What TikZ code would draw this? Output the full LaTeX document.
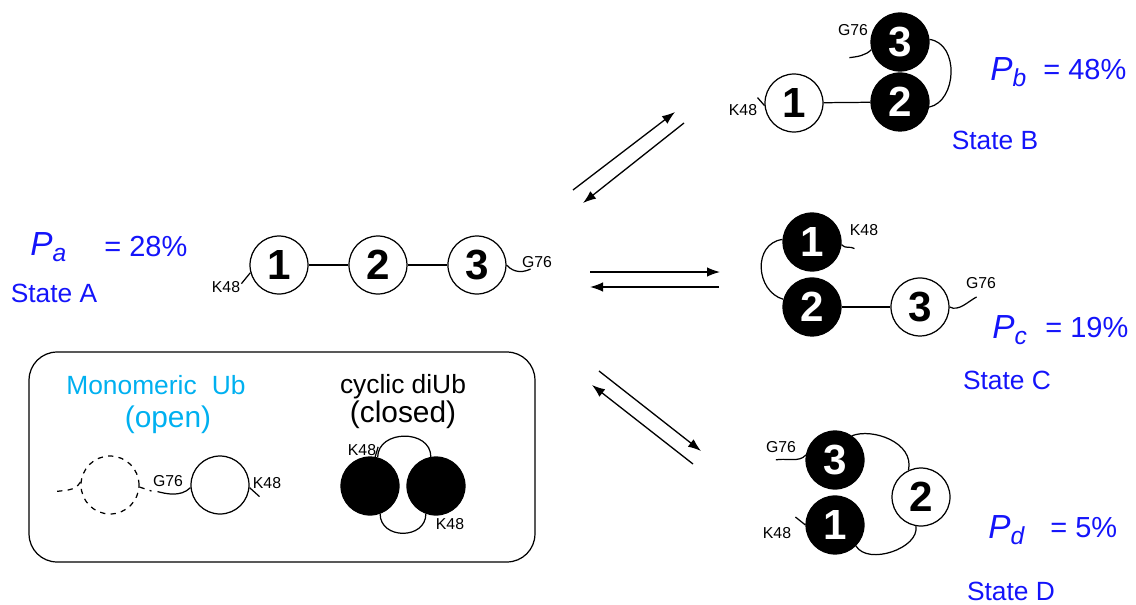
\documentclass[tikz,border=0pt]{standalone}
\usepackage{fontspec}
\setmainfont{Liberation Sans}
\usepackage{xcolor}
\usetikzlibrary{arrows.meta,calc,positioning}
\definecolor{stateblue}{RGB}{20,20,250}
\definecolor{monocyan}{RGB}{0,176,240}
\newcommand{\fsz}[1]{\fontsize{#1}{#1}\selectfont}
\newcommand{\pstate}[1]{{\fsz{19}\itshape P}\raisebox{-3.5pt}{\fsz{14}\itshape #1}}
\tikzset{%
	ub/.style       = {draw, circle, line width=0.7pt, fill=white, minimum size=1.16cm, inner sep=0pt, font=\fsz{24}\bfseries},
	ubdark/.style   = {ub, fill=black, text=white}, % closed domain
	site/.style     = {inner sep=0pt, font=\fsz{9}}, % K48, G76
	pfrac/.style    = {text=stateblue, inner sep=0pt, anchor=west, font=\fsz{16.5}},
	statelab/.style = {text=stateblue, inner sep=0pt, font=\fsz{15}},
	link/.style     = {line width=0.7pt},
	arrow/.style    = {line width=0.75pt, ->},
	legendbox/.style= {draw, line width=0.7pt, rounded corners=0.56cm, minimum width=10.12cm, minimum height=4.2cm},
}

\begin{document}
\begin{tikzpicture}[x=0.02cm,y=-0.02cm,node distance=1.98cm,>={Latex[length=2.6mm,width=1.9mm]}]
	\useasboundingbox (0,0) rectangle (1136,605);

	% State A
	\node [ub] (a1) at (279,265) {1};
	\node [ub] (a2) [right of=a1] {2};
	\node [ub] (a3) [right of=a2] {3};
	\draw [link] (a1) -- (a2);
	\draw [link] (a2) -- (a3);
	\draw [link] (a1.195) -- ++(-9,11);
	\node [site] (ak) at (226,287) {K48};
	\draw [link] (a3.east) .. controls +(8,9) and +(-6,3) .. ++(24,4);
	\node [site] (ag) at (537,262) {G76};
	\node [pfrac] (pa) at (30,247) {\pstate{a}};
	\node [pfrac] (eqa) at (104,247) {= 28\%};
	\node [statelab] (sa) at (54,293) {State A};

	% State B
	\node [ubdark] (b3) at (900,42) {3};
	\node [ubdark] (b2) [below of=b3,node distance=1.2cm] {2};
	\node [ub] (b1) at (794,103) {1};
	\draw [link] (b1) -- (b2);
	\draw [link] (b3.5) .. controls +(30,4) and +(28,-6) .. (b2.-10);
	\draw [link] (b3.195) .. controls +(-6,6) and +(8,-1) .. ++(-22,8);
	\node [site] (bg) at (853,30) {G76};
	\draw [link] (b1.185) -- ++(-7,-8);
	\node [site] (bk) at (743,110) {K48};
	\node [pfrac] (pb) at (990,72) {\pstate{b}};
	\node [pfrac] (eqb) at (1043,70) {= 48\%};
	\node [statelab] (sb) at (995,140) {State B};

	% State C
	\node [ubdark] (c1) at (812,242) {1};
	\node [ubdark] (c2) [below of=c1,node distance=1.3cm] {2};
	\node [ub] (c3) [right of=c2,node distance=2.16cm] {3};
	\draw [link] (c2) -- (c3);
	\draw [link] (c1.175) .. controls +(-30,4) and +(-28,-8) .. (c2.165);
	\draw [link] (c1.-5) .. controls +(5,5) and +(-5,-3) .. ++(13,4);
	\node [site] (ck) at (864,230) {K48};
	\draw [link] (c3.east) .. controls +(9,5) and +(-8,4) .. ++(27,-10);
	\node [site] (cg) at (981,283) {G76};
	\node [pfrac] (pc) at (992,330) {\pstate{c}};
	\node [pfrac] (eqc) at (1045,328) {= 19\%};
	\node [statelab] (sc) at (1007,380) {State C};

	% State D
	\node [ubdark] (d3) at (835,460) {3};
	\node [ubdark] (d1) [below of=d3,node distance=1.3cm] {1};
	\node [ub] (d2) at (921,497) {2};
	\draw [link] (d3.55) .. controls +(20,-8) and +(6,-28) .. (d2.115);
	\draw [link] (d1.-45) .. controls +(12,20) and +(4,22) .. (d2.-100);
	\draw [link] (d3.170) .. controls +(-6,8) and +(10,-2) .. ++(-30,5);
	\node [site] (dg) at (781,447) {G76};
	\draw [link] (d1.180) -- ++(-10,-8);
	\node [site] (dk) at (777,533) {K48};
	\node [pfrac] (pd) at (988,530) {\pstate{d}};
	\node [pfrac] (eqd) at (1050,528) {= 5\%};
	\node [statelab] (sd) at (1011,591) {State D};

	% equilibrium arrows
	\coordinate (ab1) at (573,190); \coordinate (ab2) at (675,112);
	\coordinate (ba1) at (684,123); \coordinate (ba2) at (583,203);
	\coordinate (ac1) at (590,272); \coordinate (ac2) at (720,272);
	\coordinate (ca1) at (719,287); \coordinate (ca2) at (590,287);
	\coordinate (ad1) at (599,371); \coordinate (ad2) at (701,451);
	\coordinate (da1) at (693,464); \coordinate (da2) at (592,385);
	\draw [arrow] (ab1) -- (ab2);
	\draw [arrow] (ba1) -- (ba2);
	\draw [arrow] (ac1) -- (ac2);
	\draw [arrow] (ca1) -- (ca2);
	\draw [arrow] (ad1) -- (ad2);
	\draw [arrow] (da1) -- (da2);

	% legend
	\node [legendbox] (legend) at (282,457) {};
	\node [inner sep=0pt, text=monocyan, font=\fsz{15}] (mono1) at (156,385) {Monomeric\hspace{0.3em} Ub};
	\node [inner sep=0pt, text=monocyan, font=\fsz{17}] (mono2) at (168,420) {(open)};
	\node [inner sep=0pt, font=\fsz{15}] (cyc1) at (403,387) {cyclic diUb};
	\node [inner sep=0pt, font=\fsz{17}] (cyc2) at (403,415) {(closed)};

	\node [ub, dashed] (m0) at (110,485) {};
	\node [ub] (m1) at (220,485) {};
	\draw [link, dashed] (m0.174) .. controls +(-6,10) and +(10,-2) .. ++(-27,10);
	\draw [link, dashed] (m0.-4) -- ++(12,4);
	\draw [link] (m1.185) .. controls +(-10,10) and +(8,2) .. ++(-33,4);
	\node [site] (mg) at (168,481) {G76};
	\draw [link] (m1.-5) -- ++(10,9);
	\node [site] (mk) at (267,483) {K48};

	\node [ubdark] (yl) at (370,486) {};
	\node [ubdark] (yr) [right of=yl,node distance=1.32cm] {};
	\draw [link] (yl.75) .. controls +(0,-28) and +(0,-28) .. (yr.100);
	\draw [link] (yl.-70) .. controls +(0,26) and +(0,26) .. (yr.-110);
	\draw [link] (yl.80) -- ++(3,-10);
	\node [site] (yk1) at (362,450) {K48};
	\node [site] (yk2) at (450,524) {K48};
\end{tikzpicture}
\end{document}
